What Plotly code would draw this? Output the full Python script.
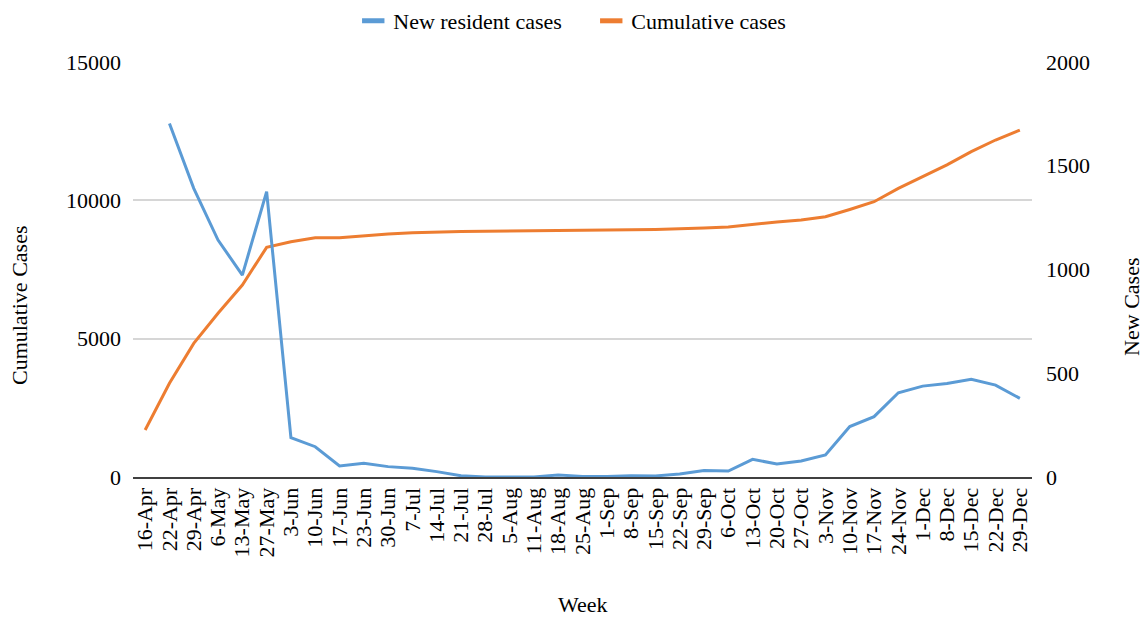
import plotly.graph_objects as go

weeks = ["16-Apr", "22-Apr", "29-Apr", "6-May", "13-May", "27-May", "3-Jun", "10-Jun",
         "17-Jun", "23-Jun", "30-Jun", "7-Jul", "14-Jul", "21-Jul", "28-Jul", "5-Aug",
         "11-Aug", "18-Aug", "25-Aug", "1-Sep", "8-Sep", "15-Sep", "22-Sep", "29-Sep",
         "6-Oct", "13-Oct", "20-Oct", "27-Oct", "3-Nov", "10-Nov", "17-Nov", "24-Nov",
         "1-Dec", "8-Dec", "15-Dec", "22-Dec", "29-Dec"]

new_cases = [None, 1704, 1391, 1142, 973, 1375, 190, 146, 53, 66, 50, 42, 26, 6, 0, 0,
             0, 10, 3, 3, 6, 5, 15, 31, 29, 85, 63, 77, 106, 243, 291, 406,
             438, 451, 471, 443, 379]

cumulative = [1700, 3390, 4830, 5920, 6940, 8300, 8500, 8650, 8650, 8720, 8780, 8830,
              8860, 8875, 8885, 8890, 8895, 8905, 8915, 8925, 8935, 8950, 8965, 9000,
              9040, 9140, 9215, 9290, 9410, 9670, 9950, 10430, 10850, 11280, 11760,
              12180, 12540]

FONT = "Liberation Serif, Times New Roman, serif"
BLUE = "#5B9BD5"
ORANGE = "#ED7D31"

fig = go.Figure()
fig.add_trace(go.Scatter(x=weeks, y=new_cases, name="New resident cases", mode="lines",
                         line=dict(color=BLUE, width=3), yaxis="y2", showlegend=False))
fig.add_trace(go.Scatter(x=weeks, y=cumulative, name="Cumulative cases", mode="lines",
                         line=dict(color=ORANGE, width=3), yaxis="y", showlegend=False))
# legend entries (short thick bars like the reference)
for nm, col in [("New resident cases", BLUE), ("Cumulative cases", ORANGE)]:
    fig.add_trace(go.Scatter(x=[None], y=[None], name=nm, mode="markers",
                             marker=dict(symbol="line-ew", size=23,
                                         line=dict(color=col, width=5))))

fig.update_layout(
    width=1143, height=618,
    margin=dict(l=133, r=111, t=62, b=141, autoexpand=False),
    paper_bgcolor="white", plot_bgcolor="white",
    font=dict(family=FONT, size=22, color="#000000"),
    showlegend=True,
    legend=dict(orientation="h", x=0.245, xanchor="left", y=1.0, yanchor="top",
                yref="container", font=dict(size=22), itemwidth=30,
                entrywidth=193, entrywidthmode="pixels"),
    xaxis=dict(type="category", tickangle=-90, showgrid=False, showline=True,
               linecolor="#404040", linewidth=2, ticks="", tickfont=dict(size=22),
               tickmode="array", tickvals=weeks, ticktext=weeks,
               range=[-0.5, 36.5], automargin=False),
    yaxis=dict(range=[0, 15000], dtick=5000, tickformat="d", showgrid=True,
               gridcolor="#d6d6d6", gridwidth=1.5, zeroline=False, showline=False,
               ticks="", tickfont=dict(size=22), ticklabelstandoff=11, automargin=False),
    yaxis2=dict(range=[0, 2000], dtick=500, tickformat="d", overlaying="y", side="right",
                showgrid=False, zeroline=False, showline=False, ticks="",
                tickfont=dict(size=22), ticklabelstandoff=13, automargin=False),
    annotations=[
        dict(text="Cumulative Cases", xref="paper", yref="paper", x=-0.1268, y=0.412,
             textangle=-90, showarrow=False, font=dict(size=22), xanchor="center", yanchor="middle"),
        dict(text="New Cases", xref="paper", yref="paper", x=1.1113, y=0.41,
             textangle=-90, showarrow=False, font=dict(size=22), xanchor="center", yanchor="middle"),
        dict(text="Week", xref="paper", yref="paper", x=0.5006, y=-0.308,
             showarrow=False, font=dict(size=22), xanchor="center", yanchor="middle"),
    ],
)

fig.write_html("out.html", config={"displayModeBar": False},
               post_script="document.body.style.margin='0px';")
